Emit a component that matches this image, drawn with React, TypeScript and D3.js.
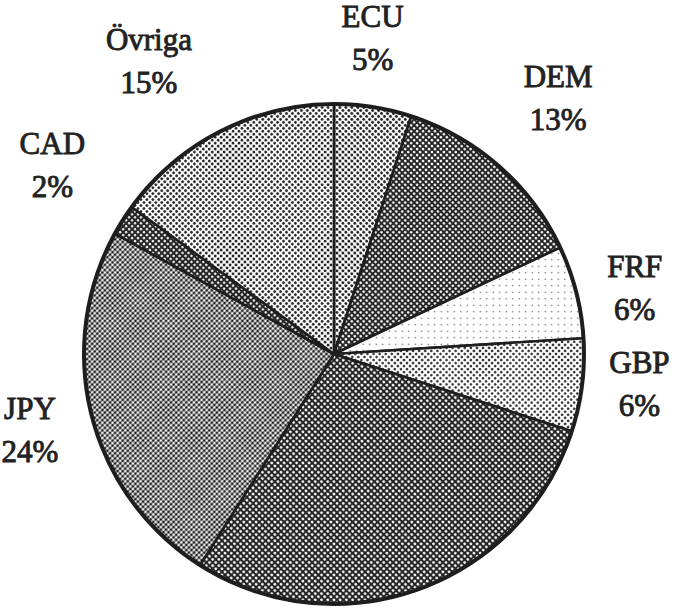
import React from "react";
import * as d3 from "d3";

const currencies = ["ECU", "DEM", "FRF", "GBP", "USD", "JPY", "CAD", "Övriga"];
const shares = [5, 13, 6, 6, 29, 24, 2, 15];
const showLabel = [true, true, true, true, false, true, true, true];

// layout config (polar label placement: radius and angle nudge in degrees)
const labelRadius = [308, 333, 306, 308, 0, 316, 334, 338];
const labelNudge = [-1.8, 0.9, 3.8, 0.2, 0, -1.4, 0.1, -6.2];

type Pat = { bg: string; dot: string; r: number; s: number; rot: number };
const patterns: Pat[] = [
  { bg: "#fff", dot: "#222", r: 1.5, s: 4.2, rot: 45 },
  { bg: "#262626", dot: "#fff", r: 1.3, s: 4.2, rot: 45 },
  { bg: "#fff", dot: "#555", r: 0.75, s: 6.5, rot: 0 },
  { bg: "#fff", dot: "#222", r: 1.25, s: 4.3, rot: 45 },
  { bg: "#262626", dot: "#fff", r: 1.4, s: 4.4, rot: 45 },
  { bg: "#fff", dot: "#222", r: 1.5, s: 3.6, rot: 45 },
  { bg: "#262626", dot: "#fff", r: 1.2, s: 4.2, rot: 45 },
  { bg: "#fff", dot: "#222", r: 1.4, s: 4.2, rot: 45 },
];

const W = 676;
const H = 612;
const cx = 334;
const cy = 354;
const R = 250;

export default function App() {
  const data = currencies.map((c, i) => ({ c, v: shares[i], i }));
  const pie = d3.pie<any>().value((d) => d.v).sort(null).startAngle(0).endAngle(2 * Math.PI);
  const arcs = pie(data);
  const arc = d3.arc<any>().innerRadius(0).outerRadius(R);

  return (
    <svg
      width={W}
      height={H}
      style={{ position: "absolute", left: 0, top: 0, background: "#fff" }}
      fontFamily="'Liberation Serif', 'Times New Roman', serif"
    >
      <defs>
        {patterns.map((p, i) => (
          <pattern
            key={i}
            id={`p${i}`}
            width={p.s}
            height={p.s}
            patternUnits="userSpaceOnUse"
            patternTransform={`rotate(${p.rot})`}
          >
            <rect width={p.s} height={p.s} fill={p.bg} />
            <circle cx={p.s / 2} cy={p.s / 2} r={p.r} fill={p.dot} />
          </pattern>
        ))}
      </defs>
      <g transform={`translate(${cx},${cy})`}>
        {arcs.map((a, i) => (
          <path
            key={i}
            d={arc(a) as string}
            fill={`url(#p${i})`}
            stroke="#1e1e1e"
            strokeWidth={2.6}
            strokeLinejoin="round"
          />
        ))}
        <circle r={R} fill="none" stroke="#1e1e1e" strokeWidth={4} />
        {arcs.map((a, i) => {
          if (!showLabel[i]) return null;
          const mid = (a.startAngle + a.endAngle) / 2 + (labelNudge[i] * Math.PI) / 180;
          const x = labelRadius[i] * Math.sin(mid);
          const y = -labelRadius[i] * Math.cos(mid);
          return (
            <text
              key={i}
              textAnchor="middle"
              fontSize={31}
              fill="#222"
              stroke="#222"
              strokeWidth={0.9}
            >
              <tspan x={x} y={y - 21}>{currencies[i]}</tspan>
              <tspan x={x} y={y + 22}>{`${shares[i]}%`}</tspan>
            </text>
          );
        })}
      </g>
    </svg>
  );
}
